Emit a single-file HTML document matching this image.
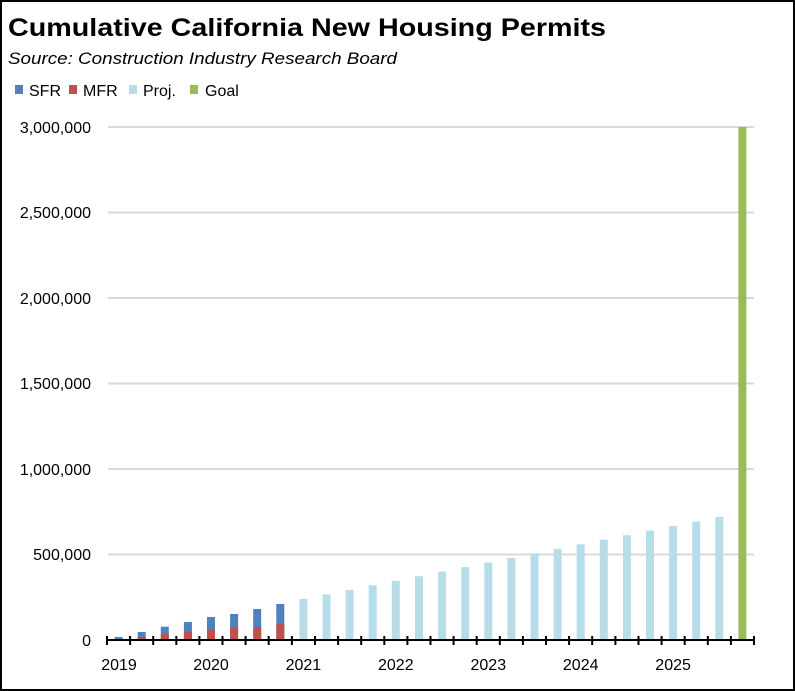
<!DOCTYPE html>
<html><head><meta charset="utf-8"><style>
html,body{margin:0;padding:0;background:#fff}
svg{display:block}
text{font-family:"Liberation Sans",sans-serif}
</style></head><body>
<svg width="795" height="691" viewBox="0 0 795 691" xmlns="http://www.w3.org/2000/svg">
<rect x="1" y="1" width="793" height="689" fill="#fff" stroke="#000" stroke-width="2"/>
<text x="8" y="36" font-size="25" font-weight="bold" textLength="598" lengthAdjust="spacingAndGlyphs">Cumulative California New Housing Permits</text>
<text x="8" y="64" font-size="17" font-style="italic" textLength="389" lengthAdjust="spacingAndGlyphs">Source:  Construction Industry Research Board</text>
<g font-size="16">
<rect x="15" y="85" width="8" height="9" fill="#4f81bd"/><text x="29" y="96">SFR</text>
<rect x="69" y="85" width="8" height="9" fill="#c0504d"/><text x="83" y="96">MFR</text>
<rect x="129" y="85" width="8" height="9" fill="#b7dde8"/><text x="143" y="96">Proj.</text>
<rect x="190" y="85" width="8" height="9" fill="#9bbb59"/><text x="205" y="96">Goal</text>
</g>
<g stroke="#d9d9d9" stroke-width="2">
<line x1="108" y1="127" x2="754" y2="127"/><line x1="108" y1="212.5" x2="754" y2="212.5"/>
<line x1="108" y1="298" x2="754" y2="298"/><line x1="108" y1="383.5" x2="754" y2="383.5"/>
<line x1="108" y1="469" x2="754" y2="469"/><line x1="108" y1="554.5" x2="754" y2="554.5"/>
</g>
<g font-size="16" text-anchor="end" fill="#000">
<text x="91" y="133">3,000,000</text><text x="91" y="218">2,500,000</text>
<text x="91" y="304">2,000,000</text><text x="91" y="389">1,500,000</text>
<text x="91" y="475">1,000,000</text><text x="91" y="560">500,000</text>
<text x="91" y="646">0</text>
</g>
<g fill="#4f81bd">
<rect x="114.6" y="637" width="8" height="3"/><rect x="137.7" y="632" width="8" height="8"/>
<rect x="160.8" y="626.7" width="8" height="13.3"/><rect x="183.9" y="622" width="8" height="18"/>
<rect x="207" y="617" width="8" height="23"/><rect x="230.1" y="614" width="8" height="26"/>
<rect x="253.2" y="609" width="8" height="31"/><rect x="276.3" y="604" width="8" height="36"/>
</g>
<g fill="#c0504d">
<rect x="114.6" y="639" width="8" height="1"/><rect x="137.7" y="637" width="8" height="3"/>
<rect x="160.8" y="633.7" width="8" height="6.3"/><rect x="183.9" y="631.7" width="8" height="8.3"/>
<rect x="207" y="629.7" width="8" height="10.3"/><rect x="230.1" y="627.7" width="8" height="12.3"/>
<rect x="253.2" y="627" width="8" height="13"/><rect x="276.3" y="623.7" width="8" height="16.3"/>
</g>
<g fill="#b7dde8">
<rect x="299.4" y="599" width="8" height="41"/><rect x="322.5" y="594.4" width="8" height="45.6"/>
<rect x="345.6" y="589.9" width="8" height="50.1"/><rect x="368.7" y="585.3" width="8" height="54.7"/>
<rect x="391.8" y="580.8" width="8" height="59.2"/><rect x="415" y="576.2" width="8" height="63.8"/>
<rect x="438.1" y="571.6" width="8" height="68.4"/><rect x="461.2" y="567.1" width="8" height="72.9"/>
<rect x="484.3" y="562.5" width="8" height="77.5"/><rect x="507.4" y="558" width="8" height="82"/>
<rect x="530.5" y="553.4" width="8" height="86.6"/><rect x="553.6" y="548.8" width="8" height="91.2"/>
<rect x="576.7" y="544.3" width="8" height="95.7"/><rect x="599.8" y="539.7" width="8" height="100.3"/>
<rect x="622.9" y="535.2" width="8" height="104.8"/><rect x="646" y="530.6" width="8" height="109.4"/>
<rect x="669.1" y="526" width="8" height="114"/><rect x="692.2" y="521.5" width="8" height="118.5"/>
<rect x="715.3" y="517" width="8" height="123"/>
</g>
<rect x="738.4" y="127" width="8" height="513" fill="#9bbb59"/>
<g stroke="#000" stroke-width="2">
<line x1="106" y1="640" x2="755" y2="640"/>
<path d="M107 636v9M130.1 636v9M153.2 636v9M176.3 636v9M199.4 636v9M222.5 636v9M245.6 636v9M268.7 636v9M291.9 636v9M315 636v9M338.1 636v9M361.2 636v9M384.3 636v9M407.4 636v9M430.5 636v9M453.6 636v9M476.7 636v9M499.8 636v9M522.9 636v9M546 636v9M569.1 636v9M592.2 636v9M615.4 636v9M638.5 636v9M661.6 636v9M684.7 636v9M707.8 636v9M730.9 636v9M754 636v9"/>
</g>
<g font-size="16" text-anchor="middle">
<text x="119" y="670">2019</text><text x="211" y="670">2020</text><text x="303.4" y="670">2021</text>
<text x="395.8" y="670">2022</text><text x="488.3" y="670">2023</text><text x="580.7" y="670">2024</text>
<text x="673.1" y="670">2025</text>
</g>
</svg>
</body></html>
